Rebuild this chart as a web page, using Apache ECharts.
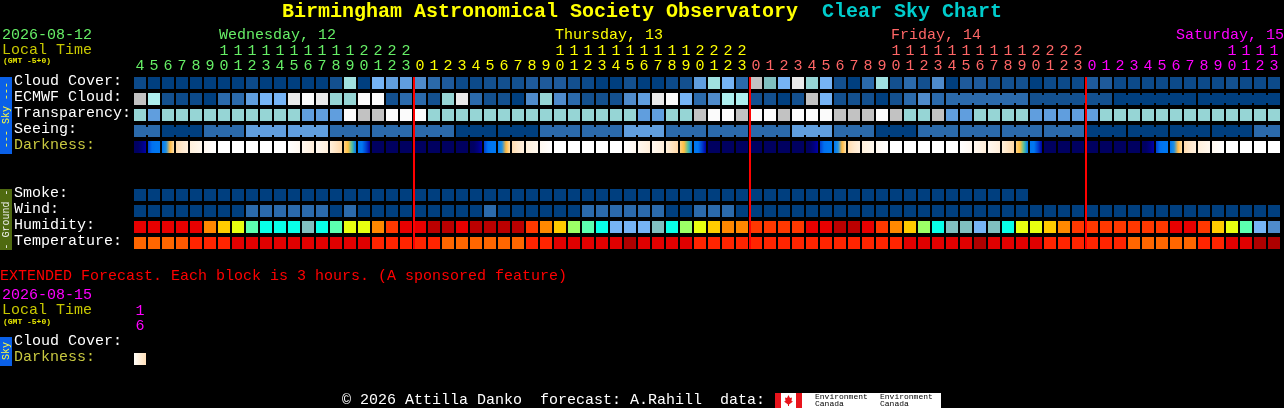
<!DOCTYPE html>
<html><head><meta charset="utf-8">
<style>html,body{margin:0;padding:0;background:#000;overflow:hidden}#c{width:1284px;height:408px}</style>
<script src="https://cdn.jsdelivr.net/npm/echarts@6/dist/echarts.min.js"></script>
</head><body><div id="c"></div>
<script>
const hours=[4,5,6,7,8,9,10,11,12,13,14,15,16,17,18,19,20,21,22,23,
0,1,2,3,4,5,6,7,8,9,10,11,12,13,14,15,16,17,18,19,20,21,22,23,
0,1,2,3,4,5,6,7,8,9,10,11,12,13,14,15,16,17,18,19,20,21,22,23,
0,1,2,3,4,5,6,7,8,9,10,11,12,13];
const extendedHours=[16];
const midnightColumns=[20,44,68];
const rowNames=['Cloud Cover:','ECMWF Cloud:','Transparency:','Seeing:','Darkness:','','','Smoke:','Wind:','Humidity:','Temperature:'];
const extendedRowNames=['Cloud Cover:','Darkness:'];

const cloudCover=[1,0,0,0,0,0,0,0,1,0,0,0,0,0,2,10,0,7,6,6,
5,4,3,1,1,2,2,2,3,3,3,2,1,0,0,2,0,0,1,2,6,10,7,4,
12,8,7,13,9,7,2,0,4,10,2,4,2,5,0,3,3,2,2,2,0,1,1,1,
3,3,1,1,1,1,1,1,1,1,2,1,1,1];
const ecmwfCloud=[12,11,2,1,1,0,4,4,6,7,7,13,14,13,9,9,14,14,2,4,
4,2,9,13,4,2,2,0,5,9,5,4,2,2,2,5,6,13,14,7,4,5,11,11,
2,2,0,2,12,7,2,2,2,0,2,4,5,4,4,4,4,4,4,4,2,2,2,2,
2,2,0,0,0,0,0,0,0,0,0,0,0,0];
const ecmwfRuns=[1,1,1,1,1,1,1,1,1,1,1,1,1,1,1,1,1,1,1,1,1,1,1,1,1,1,1,1,1,1,1,1,1,1,1,1,1,1,1,1,1,1,1,1,1,1,1,1,1,1,1,1,1,1,1,1,1,1,6,6,6,6];
const transparency=[9,6,9,9,9,9,9,9,9,9,9,9,6,6,6,14,12,12,14,14,
14,9,9,9,9,9,9,9,9,9,9,9,9,9,9,9,6,6,9,9,12,14,14,12,
14,14,12,14,14,14,12,12,12,14,12,9,9,12,6,6,9,9,9,9,6,6,6,6,
6,9,9,9,9,9,9,9,9,9,9,9,9,9];
const seeing=[4,4,0,0,0,4,4,4,6,6,6,6,6,6,4,4,4,4,4,4,
4,4,4,0,0,0,0,0,0,4,4,4,4,4,4,6,6,6,4,4,4,4,4,4,
4,4,4,6,6,6,4,4,4,0,0,0,4,4,4,4,4,4,4,4,4,4,4,4,
0,0,0,0,0,0,0,0,0,0,0,0,4,4];
const seeingRuns=[2,3,3,3,3,3,3,3,3,3,3,3,3,3,3,3,3,3,3,3,3,3,3,3,3,3,3,2];
const darkness=[1,2,3,4,5,6,7,7,7,7,7,8,9,9,10,11,12,0,0,0,
0,0,0,0,1,2,3,4,5,6,7,7,7,7,7,8,9,9,10,11,12,0,0,0,
0,0,0,0,1,2,3,4,5,6,7,7,7,7,7,8,9,9,10,11,12,0,0,0,
0,0,0,0,1,2,3,4,5,6,7,7,7,7];
const smoke=[0,0,0,0,0,0,0,0,0,0,0,0,0,0,0,0,0,0,0,0,
0,0,0,0,0,0,0,0,0,0,0,0,0,0,0,0,0,0,0,0,0,0,0,0,
0,0,0,0,0,0,0,0,0,0,0,0,0,0,0,0,0,0,0,0];
const wind=[0,0,0,0,0,0,0,0,4,4,4,4,4,4,0,4,0,0,0,0,
0,0,0,0,0,4,0,0,0,0,0,0,4,4,4,4,4,4,0,0,4,4,4,0,
0,0,0,0,0,0,0,0,0,0,0,0,0,0,0,0,0,0,0,0,0,0,0,0,
0,0,0,0,0,0,0,0,0,0,0,0,0,0];
const humidity=[10,10,10,10,10,8,7,6,4,3,3,3,2,3,4,6,6,8,9,10,
10,11,11,10,11,11,11,11,9,8,7,5,4,3,1,1,1,2,3,5,6,7,8,8,
9,9,9,9,10,10,11,11,10,9,8,7,5,3,2,2,1,2,3,6,6,7,8,9,
9,9,9,9,9,9,10,10,9,7,6,4,1,0];
const temperature=[0,0,0,1,2,2,2,3,3,3,3,3,3,3,3,3,3,2,2,2,
2,2,0,0,0,0,0,0,2,2,3,3,3,3,3,4,3,3,3,3,2,2,2,2,
2,2,2,2,2,2,2,2,2,2,2,3,3,3,3,3,4,3,3,3,3,2,2,2,
2,2,2,0,0,0,0,0,2,2,3,3,4,4];
const extendedCloud=[];
const extendedDarkness=[13];

const skyColors=['#003F7F','#0C4A8A','#13508F','#1E5A9B','#2B6AAB','#4F8BCB','#609EDE','#76B4F5','#80BFBF','#96D5D5','#A0E1E0','#ADEEEE','#C2C2C2','#EAEAEA','#FBFBFB'];
const humidityColors=['#4F8BCB','#76B4F5','#80BFBF','#08FFE8','#5CFFB0','#9CFF66','#E8FF10','#FFCC00','#FF8800','#FF3800','#E80000','#BB0000'];
const temperatureColors=['#FF6600','#FF5800','#FF2400','#E00000','#AE0000'];
const darknessStops=[
 ['#000060'],
 ['#000060','#000064','#000080','#0000A8'],
 ['#0040D0','#0070F0','#0077F0','#0077F0'],
 ['#0077F0','#2090E0','#FFB840','#FFE0A8'],
 ['#FFDCB0','#FFE8CC','#FFF0DE'],
 ['#FFF0DC','#FFF8EE'],
 ['#FFF8F0','#FFFFFF'],
 ['#FFFFFF'],
 ['#FFFFFF','#FFF8F0'],
 ['#FFF8F0','#FFEEDA'],
 ['#FFF0DC','#FFD8A8'],
 ['#FFD080','#FFC040','#50C0A0','#0077F0'],
 ['#0077F0','#0077F0','#0040D0','#0000A0'],
 ['#FFFDF8','#FFDFB8']
];

const FONT='"Liberation Mono","DejaVu Sans Mono",monospace';
const TEXT15='15px '+FONT;

function fillOf(palette,v){
  if(palette!==darknessStops) return palette[v];
  const s=darknessStops[v];
  if(s.length===1) return s[0];
  return new echarts.graphic.LinearGradient(0,0,1,0,s.map((c,i)=>({offset:i/(s.length-1),color:c})));
}
function linkFlags(runs){
  const f=[];runs.forEach(n=>{for(let i=0;i<n;i++)f.push(i<n-1?1:0)});return f;
}
function rowItems(rowIndex,values,runs){
  const l=runs?linkFlags(runs):[];
  return values.map((v,c)=>[c,rowIndex,v,l[c]||0]);
}
const rows=[
 [0,cloudCover,skyColors],[1,ecmwfCloud,skyColors,ecmwfRuns],[2,transparency,skyColors],[3,seeing,skyColors,seeingRuns],
 [4,darkness,darknessStops],[7,smoke,skyColors],[8,wind,skyColors],[9,humidity,humidityColors],[10,temperature,temperatureColors]
];
function cellSeries(name,xi,yi,items,palette){
  return {name,type:'custom',coordinateSystem:'cartesian2d',xAxisIndex:xi,yAxisIndex:yi,z:2,silent:true,
    data:items,
    renderItem(params,api){
      const p=api.coord([api.value(0),api.value(1)]);
      const bw=api.size([1,1]);
      const w=bw[0]-2,h=bw[1]-4;
      const fill=fillOf(palette,api.value(2));
      const kids=[{type:'rect',shape:{x:p[0]-w/2,y:p[1]-h/2,width:w,height:h},style:{fill}}];
      if(api.value(3)) kids.push({type:'rect',shape:{x:p[0]+w/2,y:p[1]-h/2+2,width:bw[0]-w,height:h-4},style:{fill}});
      return {type:'group',children:kids};
    }};
}
const series=rows.map(r=>cellSeries('row'+r[0],0,0,rowItems(r[0],r[1],r[3]),r[2]));
series.push(cellSeries('extCloud',1,1,rowItems(0,extendedCloud),skyColors));
series.push(cellSeries('extDark',1,1,rowItems(1,extendedDarkness),darknessStops));
series.push({name:'midnight',type:'custom',coordinateSystem:'cartesian2d',xAxisIndex:0,yAxisIndex:0,z:5,silent:true,
  data:midnightColumns.map(c=>[c]),
  renderItem(params,api){
    const bw=api.size([1,1]);
    const x=api.coord([api.value(0),0])[0]-bw[0]/2;
    const top=api.coord([0,0])[1]-bw[1]/2+2, bot=api.coord([0,10])[1]+bw[1]/2-2;
    return {type:'rect',shape:{x:x,y:top,width:2,height:bot-top},style:{fill:'#FF0000'}};
  }});

function dayColor(i){return i<20?'#66EE66':i<44?'#FFFF00':i<68?'#FF6666':'#FF00FF';}
function hourLabel(v){const h=Number(v);return h<10?'\n'+h:Math.floor(h/10)+'\n'+(h%10);}
function txt(text,x,y,fill,font,extra){
  return Object.assign({type:'text',x,y,silent:true,style:{text,fill,font:font||TEXT15,verticalAlign:'middle',align:'left'}},extra||{});
}
function vtxt(text,x,y,fill){
  return {type:'text',x,y,rotation:Math.PI/2,silent:true,style:{text,fill,font:'10px '+FONT,verticalAlign:'middle',align:'center'}};
}
function box(x,y,w,h,fill){return {type:'rect',silent:true,shape:{x,y,width:w,height:h},style:{fill}};}
const TITLE='bold 20px '+FONT;
const graphics=[
 txt('Birmingham Astronomical Society Observatory',282,12,'#FFFF00',TITLE),
 txt('Clear Sky Chart',822,12,'#00CCCC',TITLE),
 txt('2026-08-12',2,35,'#66EE66'),
 txt('Local Time',2,50,'#C8C800'),
 txt('(GMT -5+0)',3,61,'#E8E800','bold 8px '+FONT),
 txt('Wednesday, 12',219,35,'#66EE66'),
 txt('Thursday, 13',555,35,'#FFFF00'),
 txt('Friday, 14',891,35,'#FF6666'),
 txt('Saturday, 15',1176,35,'#FF00FF'),
 box(0,77,12,77,'#0A60E8'),
 vtxt('--- Sky ---',6,115,'#FFFF40'),
 box(0,189,12,61,'#4F6A10'),
 vtxt('- Ground -',6,219.5,'#F0F0F0'),
 txt('EXTENDED Forecast. Each block is 3 hours. (A sponsored feature)',0,276,'#FF0000'),
 txt('2026-08-15',2,295,'#FF00FF'),
 txt('Local Time',2,310,'#C8C800'),
 txt('(GMT -5+0)',3,322,'#E8E800','bold 8px '+FONT),
 box(0,337,12,29,'#0A60E8'),
 vtxt('Sky',6,351,'#FFFF40'),
 txt('\u00A9 2026 Attilla Danko  forecast: A.Rahill  data:',342,400,'#FFFFFF'),
 box(775,393,166,15,'#FFFFFF'),
 box(775,393,6,15,'#E8141C'),
 box(796,393,6,15,'#E8141C'),
 {type:'polygon',silent:true,shape:{points:[[788.5,395],[790,398],[792,397.5],[791.5,401],[793,401.5],[789,404.5],[789,406],[788,406],[788,404.5],[784,401.5],[785.5,401],[785,397.5],[787,398]]},style:{fill:'#E8141C'}},
 txt('Environment',815,397,'#000000','8px '+FONT),
 txt('Canada',815,404,'#000000','8px '+FONT),
 txt('Environment',880,397,'#000000','8px '+FONT),
 txt('Canada',880,404,'#000000','8px '+FONT)
];

const chart=echarts.init(document.getElementById('c'),null,{renderer:'canvas'});
chart.setOption({
 animation:false,backgroundColor:'#000',tooltip:{show:false},
 grid:[{left:133,top:75,width:1148,height:176,containLabel:false},{left:133,top:335,width:14,height:32,containLabel:false}],
 xAxis:[
  {type:'category',gridIndex:0,position:'top',data:hours.map(String),axisLine:{show:false},axisTick:{show:false},splitLine:{show:false},
   axisLabel:{interval:0,margin:1,fontFamily:FONT,fontSize:15,lineHeight:15,color:(v,i)=>dayColor(i),formatter:hourLabel,hideOverlap:false}},
  {type:'category',gridIndex:1,position:'top',data:extendedHours.map(String),axisLine:{show:false},axisTick:{show:false},splitLine:{show:false},
   axisLabel:{interval:0,margin:1,fontFamily:FONT,fontSize:15,lineHeight:15,color:'#FF00FF',formatter:hourLabel}}
 ],
 yAxis:[
  {type:'category',gridIndex:0,inverse:true,data:rowNames,axisLine:{show:false},axisTick:{show:false},splitLine:{show:false},
   axisLabel:{interval:0,align:'left',margin:119,fontFamily:FONT,fontSize:15,verticalAlign:'bottom',lineHeight:3,color:(v)=>v==='Darkness:'?'#C8C840':'#FFFFFF'}},
  {type:'category',gridIndex:1,inverse:true,data:extendedRowNames,axisLine:{show:false},axisTick:{show:false},splitLine:{show:false},
   axisLabel:{interval:0,align:'left',margin:119,fontFamily:FONT,fontSize:15,verticalAlign:'bottom',lineHeight:3,color:(v)=>v==='Darkness:'?'#C8C840':'#FFFFFF'}}
 ],
 series,
 graphic:{elements:graphics}
});
</script></body></html>
